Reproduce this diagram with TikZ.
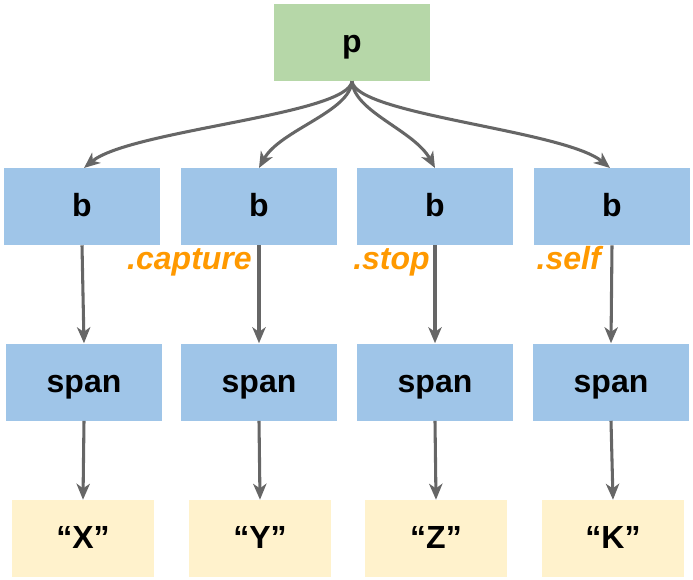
\documentclass[tikz,border=0pt]{standalone}
\usepackage{fontspec}
\setmainfont{Liberation Sans}
\usetikzlibrary{arrows.meta}
\definecolor{pgreen}{HTML}{B6D7A8}
\definecolor{bblue}{HTML}{9FC5E8}
\definecolor{yel}{HTML}{FFF2CC}
\definecolor{org}{HTML}{FF9900}
\definecolor{arr}{HTML}{666666}
\tikzset{
  box/.style={inner sep=0pt, minimum width=117pt, minimum height=57.75pt, text height=20pt, text depth=5pt, font=\fontsize{24}{28}\selectfont\bfseries},
  pbox/.style={box, fill=pgreen},
  bbox/.style={box, fill=bblue},
  tbox/.style={box, fill=yel, minimum width=106.5pt},
  lbl/.style={anchor=base east, inner sep=0pt, text=org, font=\fontsize{24}{28}\selectfont\bfseries\itshape},
  link/.style={draw=arr, line width=2.3pt, -{Stealth[length=12pt,width=10pt,inset=3.5pt]}},
}
\begin{document}
\begin{tikzpicture}[x=0.75pt,y=-0.75pt]
\useasboundingbox (0,0) rectangle (693,579);
\node[pbox] (p) at (352,42.5) {p};
\node[bbox] (b1) at (82,206.5) {b};
\node[bbox] (b2) at (259,206.5) {b};
\node[bbox] (b3) at (435,206.5) {b};
\node[bbox] (b4) at (612,206.5) {b};
\node[bbox] (s1) at (84,382) {span};
\node[bbox] (s2) at (259,382) {span};
\node[bbox] (s3) at (435,382) {span};
\node[bbox] (s4) at (611,382) {span};
\node[tbox] (t1) at (83,538.5) {“X”};
\node[tbox] (t2) at (260,538.5) {“Y”};
\node[tbox] (t3) at (436,538.5) {“Z”};
\node[tbox] (t4) at (613,538.5) {“K”};
\node[lbl] (l2) at (252,269) {.capture};
\node[lbl] (l3) at (430,269) {.stop};
\node[lbl] (l4) at (601,269) {.self};
\draw[link] (p.south) .. controls (348,115) and (130,130) .. (84,168);
\draw[link] (p.south) .. controls (350,112) and (280,130) .. (259,168);
\draw[link] (p.south) .. controls (354,112) and (414,130) .. (435,168);
\draw[link] (p.south) .. controls (356,115) and (564,130) .. (610,168);
\foreach \i in {1,2,3,4}{
  \draw[link] (b\i.south) -- (s\i.north);
  \draw[link] (s\i.south) -- (t\i.north);
}
\end{tikzpicture}
\end{document}
